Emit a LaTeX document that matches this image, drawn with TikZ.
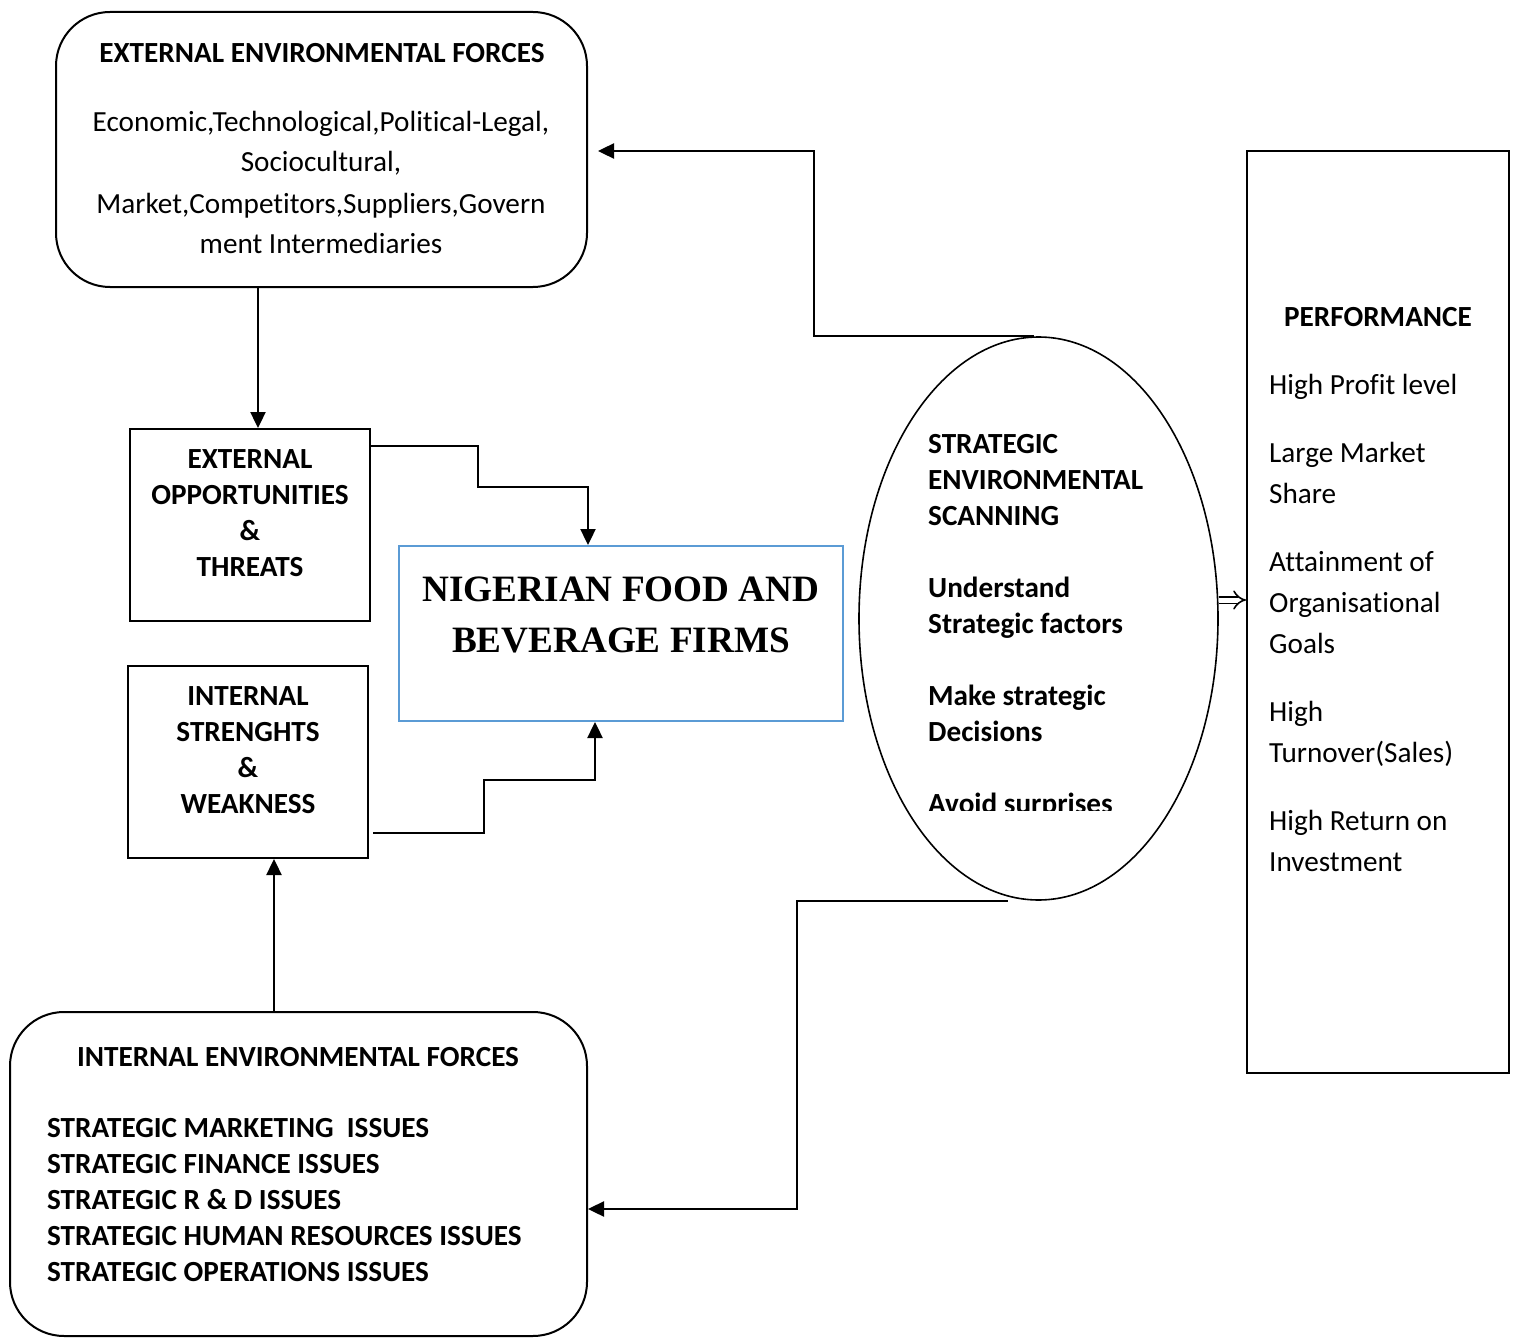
\documentclass[tikz,border=0pt]{standalone}
\usepackage{fontspec}
\setmainfont{Carlito}[Ligatures={NoCommon,NoContextual}, Contextuals=NoAlternate]
\newfontfamily\titlefont{Liberation Serif}
\usetikzlibrary{arrows.meta,positioning,calc,shapes.geometric}
\definecolor{firmblue}{RGB}{91,155,213}

\begin{document}
\begin{tikzpicture}[x=0.5pt, y=-0.5pt, >={Triangle[width=7.5pt,length=8pt]},
  font=\fontsize{14.6}{18}\selectfont, line width=1.2pt,
  sqbox/.style={draw, line width=1pt, inner sep=0pt},
  rbox/.style={draw, line width=1pt, rounded corners=27pt, inner sep=0pt},
  txt/.style={inner sep=0pt, anchor=base, align=center},
  ltxt/.style={inner sep=0pt, anchor=base west, align=left}]
\useasboundingbox (0,0) rectangle (1517,1338);

\node[rbox, minimum width=265.5pt, minimum height=137.5pt] (ext) at (321.5,149.5) {};
\node[txt, font=\fontsize{14.6}{18}\bfseries] (exttitle) at (322,63) {EXTERNAL ENVIRONMENTAL FORCES};
\node[txt, font=\fontsize{14.6}{20.5}\selectfont] (extbody) at (321,254)
  {Economic,Technological,Political-Legal,\\Sociocultural,\\Market,Competitors,Suppliers,Govern\\ment Intermediaries};

\node[sqbox, minimum width=120pt, minimum height=96pt] (opp) at (250,525) {};
\node[txt, font=\fontsize{14.6}{18}\bfseries] (opptxt) at (250,576) {EXTERNAL\\OPPORTUNITIES\\\&\\THREATS};

\node[sqbox, minimum width=120pt, minimum height=96pt] (str) at (248,762) {};
\node[txt, font=\fontsize{14.6}{18}\bfseries] (strtxt) at (248,813) {INTERNAL\\STRENGHTS\\\&\\WEAKNESS};

\node[sqbox, draw=firmblue, minimum width=222pt, minimum height=87.5pt] (firms) at (621,633.5) {};
\node[txt, font=\titlefont\fontsize{18.6}{25.5}\bfseries] (firmtxt) at (621,652) {NIGERIAN FOOD AND\\BEVERAGE FIRMS};

\node[draw, ellipse, line width=0.8pt, inner sep=0pt, minimum width=179.5pt, minimum height=281.5pt] (scan) at (1038.5,618.5) {};
\begin{scope}
\clip (890,410) rectangle (1190,810);
\node[ltxt, font=\fontsize{14.6}{18}\bfseries] (scantxt) at (927,813)
  {STRATEGIC\\ENVIRONMENTAL\\SCANNING\\[18pt]Understand\\Strategic factors\\[18pt]Make strategic\\Decisions\\[18pt]Avoid surprises};
\end{scope}

\node[sqbox, minimum width=131pt, minimum height=461pt] (perf) at (1378,612) {};
\node[txt, font=\fontsize{14.6}{18}\bfseries] (perftitle) at (1378,326) {PERFORMANCE};
\node[ltxt, font=\fontsize{14.6}{20.5}\selectfont] (perftxt) at (1268,871)
  {High Profit level\\[13.5pt]Large Market\\Share\\[13.5pt]Attainment of\\Organisational\\Goals\\[13.5pt]High\\Turnover(Sales)\\[13.5pt]High Return on\\Investment};

\node[rbox, minimum width=288.5pt, minimum height=162pt] (intf) at (298.5,1174) {};
\node[txt, font=\fontsize{14.6}{18}\bfseries] (intftitle) at (298,1066) {INTERNAL ENVIRONMENTAL FORCES};
\node[ltxt, font=\fontsize{14.6}{18}\bfseries] (intftxt) at (46,1281)
  {STRATEGIC MARKETING\ \ ISSUES\\STRATEGIC FINANCE ISSUES\\STRATEGIC R \& D ISSUES\\STRATEGIC HUMAN RESOURCES ISSUES\\STRATEGIC OPERATIONS ISSUES};

\draw[->] (ext.south -| 258,0) -- (opp.north -| 258,0);
\draw[->] ($(opp.north east)+(0,18)$) -| (478,487) -| (firms.north -| 588,0);
\draw[->] ($(str.south east)+(4,-26)$) -| (484,780) -| (firms.south -| 595,0);
\draw[->] (intf.north -| 274,0) -- (str.south -| 274,0);
\draw[->, shorten >=5pt] ($(scan.north)+(-5,0)$) -| (814,151) -- (ext.east |- 0,151);
\draw[->] ($(scan.south)+(-31,0)$) -| (797,1209) -- (intf.east |- 0,1209);
\draw[double, double distance=2.5pt, line width=0.8pt, -{Implies}] (scan.east |- 0,600) -- (perf.west |- 0,600);
\end{tikzpicture}
\end{document}
